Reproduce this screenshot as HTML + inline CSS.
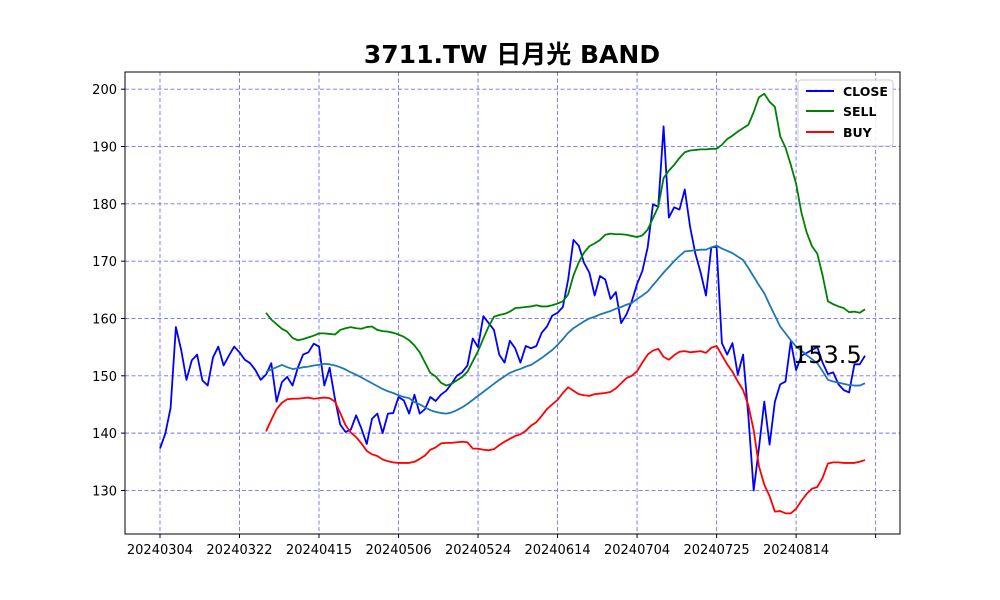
<!DOCTYPE html>
<html><head><meta charset="utf-8"><style>
html,body{margin:0;padding:0;background:#fff;}
svg{display:block;font-family:"DejaVu Sans","Liberation Sans","Noto Sans CJK TC",sans-serif;}
</style></head><body>
<svg id="chart" width="1000" height="600" viewBox="0 0 1000 600">
<rect x="0" y="0" width="1000" height="600" fill="#fff"/>
<text x="512" y="63" text-anchor="middle" font-size="25" font-weight="bold" fill="#000" font-family="'DejaVu Sans','Noto Sans CJK TC',sans-serif">3711.TW 日月光 BAND</text>
<g id="grid"></g>
<g id="series"></g>
<rect x="125" y="72" width="775" height="462" fill="none" stroke="#000" stroke-width="1"/>
<g id="axes"></g>
<text x="793" y="363" font-size="24" fill="#000">153.5</text>
<g>
<rect x="798" y="80" width="95" height="66" rx="3" fill="#fff" fill-opacity="0.85" stroke="#ccc"/>
<line x1="806" y1="91" x2="834" y2="91" stroke="#0000ff" stroke-width="2"/>
<text x="843" y="96" font-size="12.5" font-weight="bold">CLOSE</text>
<line x1="806" y1="111" x2="834" y2="111" stroke="#008000" stroke-width="2"/>
<text x="843" y="116" font-size="12.5" font-weight="bold">SELL</text>
<line x1="806" y1="132" x2="834" y2="132" stroke="#ff0000" stroke-width="2"/>
<text x="843" y="137" font-size="12.5" font-weight="bold">BUY</text>
</g>
</svg>
<script>
const closeVals = [137.3,139.9,144.4,158.5,154.5,149.3,152.7,153.7,149.2,148.3,153.2,155.1,151.8,153.5,155.1,154.1,152.8,152.2,151,149.3,150.2,152.2,145.5,148.9,149.8,148.3,151.4,153.7,154.1,155.6,155.1,148.3,151.4,146,141.5,140.2,140.6,143.1,140.8,138.1,142.5,143.4,140,143.4,143.5,146.3,145.7,143.4,146.7,143.4,144.2,146.3,145.6,146.7,147.4,148.6,150,150.6,151.8,156.5,155,160.4,159.2,158,153.7,152.3,156.1,154.8,152.3,155.2,154.8,155.2,157.5,158.6,160.5,161,162,166.8,173.7,172.7,169.7,168,164,167.4,166.8,163.4,164.6,159.2,160.7,163,166,168.3,172.4,179.9,179.5,193.5,177.6,179.4,179,182.5,176,171.3,168,164,172.4,172.5,155.7,153.7,155.7,150.2,153.7,142.9,130,137.5,145.5,138,145.5,148.5,149,156,151,153.5,154,154.5,155,152.3,150.3,150.6,148.5,147.5,147.1,152,152,153.5];
const bandStart = 20;
const midVals = [150.7,151.1,151.5,151.9,151.5,151.2,151.3,151.5,151.6,151.8,151.9,152.1,152,151.8,151.5,151.1,150.6,150.2,149.7,149.2,148.7,148.2,147.7,147.3,147,146.6,146.3,146.1,145.4,145,144.5,144,143.7,143.5,143.4,143.6,144,144.5,145.1,145.8,146.5,147.2,147.9,148.6,149.3,149.9,150.5,150.9,151.2,151.6,151.9,152.5,153.1,153.8,154.5,155.4,156.4,157.5,158.3,158.9,159.5,160,160.3,160.7,161,161.3,161.7,162,162.4,162.7,163.4,164,164.7,165.8,166.9,168,169,170,170.9,171.7,171.8,171.9,172,172,172.4,172.7,172.2,171.8,171.4,170.8,170.2,168.8,167.3,165.8,164.4,162.4,160.5,158.6,157.4,156.2,155.1,154.4,153.6,152.9,152.2,150.8,149.3,149,148.8,148.6,148.4,148.3,148.3,148.7];
const sellVals = [161,159.8,159,158.2,157.7,156.6,156.2,156.4,156.7,157,157.4,157.4,157.3,157.2,158,158.3,158.5,158.3,158.2,158.5,158.6,158,157.8,157.7,157.5,157.2,156.8,156.2,155.3,154.1,152.3,150.5,149.9,148.8,148.3,148.6,149.2,149.8,150.7,152.5,154.3,156.5,158.6,160.3,160.6,160.8,161.2,161.8,161.9,162,162.1,162.3,162.1,162.1,162.3,162.6,163,164.2,167.5,169.8,171.5,172.6,173.1,173.7,174.6,174.8,174.7,174.7,174.6,174.4,174.2,174.5,175.5,177.5,179.5,184.5,185.8,186.8,188,189,189.3,189.4,189.5,189.5,189.6,189.6,190.3,191.3,191.9,192.6,193.2,193.8,196,198.6,199.2,197.8,196.9,191.8,189.8,186.8,183.5,178.5,175,172.6,171.3,167.5,163,162.5,162.1,161.8,161.1,161.2,161,161.6];
const buyVals = [140.3,142.3,144.2,145.3,145.9,146,146,146.1,146.2,146,146.1,146.2,146.1,145.5,143.5,141.4,140.1,139.3,138.2,136.9,136.3,136,135.4,135.1,134.9,134.8,134.8,134.8,135,135.5,136.1,137.1,137.5,138.2,138.3,138.3,138.4,138.5,138.4,137.3,137.3,137.1,137,137.2,137.9,138.5,139,139.5,139.8,140.4,141.3,141.9,143,144.2,145,145.8,147,148,147.4,146.8,146.6,146.5,146.8,146.9,147,147.2,147.8,148.7,149.6,150,150.8,152.3,153.7,154.4,154.7,153.3,152.8,153.6,154.2,154.3,154.1,154.2,154.3,154,154.9,155.2,153.6,152,150.7,149,147.5,144.8,140.5,134.2,131,129,126.3,126.4,126,126,126.8,128.2,129.4,130.3,130.6,132.2,134.7,134.9,134.9,134.8,134.8,134.8,135,135.3];
const xTickIdx = [0,15,30,45,60,75,90,105,120,135];
const xTickLabels = ["20240304","20240322","20240415","20240506","20240524","20240614","20240704","20240725","20240814",""];
const yTicks = [130,140,150,160,170,180,190,200];

const NS = "http://www.w3.org/2000/svg";
const X0 = 125, X1 = 900, Y0 = 72, Y1 = 534;
const xMin = -6.6, xMax = 139.6, yMin = 122.4, yMax = 203.0;
function xs(i){ return X0 + (i - xMin) / (xMax - xMin) * (X1 - X0); }
function ys(v){ return Y1 - (v - yMin) / (yMax - yMin) * (Y1 - Y0); }
function mk(tag, attrs, parent){ const e = document.createElementNS(NS, tag); for (const k in attrs) e.setAttribute(k, attrs[k]); parent.appendChild(e); return e; }

const grid = document.getElementById('grid');
const axes = document.getElementById('axes');
const series = document.getElementById('series');

xTickIdx.forEach((t, k) => {
  const x = xs(t);
  const g = mk('line', {x1:x, y1:Y0, x2:x, y2:Y1, stroke:'#7070ff', 'stroke-width':0.9, 'stroke-dasharray':'4,2.5'}, grid);
  
  
  const tk = mk('line', {x1:x, y1:Y1, x2:x, y2:Y1+4, stroke:'#000', 'stroke-width':1}, axes);
  
  
  const lb = mk('text', {x:x, y:Y1+20, 'text-anchor':'middle', 'font-size':13, fill:'#000'}, axes);
  lb.textContent = xTickLabels[k];
  
  
});
yTicks.forEach(v => {
  const y = ys(v);
  const g = mk('line', {x1:X0, y1:y, x2:X1, y2:y, stroke:'#7070ff', 'stroke-width':0.9, 'stroke-dasharray':'4,2.5'}, grid);
  
  
  const tk = mk('line', {x1:X0-4, y1:y, x2:X0, y2:y, stroke:'#000', 'stroke-width':1}, axes);
  
  
  const lb = mk('text', {x:X0-8, y:y+5, 'text-anchor':'end', 'font-size':13, fill:'#000'}, axes);
  lb.textContent = String(v);
  
  
});

function drawLine(vals, start, color, name){
  const pts = vals.map((v, i) => xs(start + i).toFixed(2) + ',' + ys(v).toFixed(2)).join(' ');
  const p = mk('polyline', {points:pts, fill:'none', stroke:color, 'stroke-width':1.8, 'stroke-linejoin':'round'}, series);
  
  
}
drawLine(closeVals, 0, '#0000ff', 'close-line');
drawLine(sellVals, bandStart, '#008000', 'sell-band-line');
drawLine(buyVals, bandStart, '#ff0000', 'buy-band-line');
drawLine(midVals, bandStart, '#1f77b4', 'middle-band-line');
</script>
</body></html>
